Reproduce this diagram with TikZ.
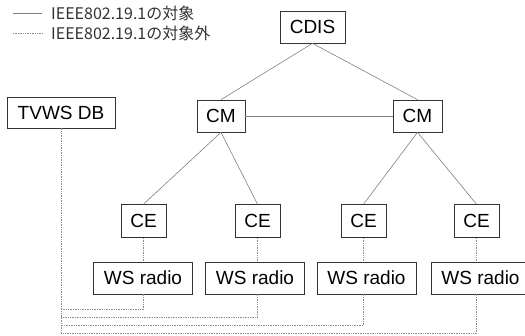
\documentclass[tikz,border=0pt]{standalone}
\usepackage{fontspec}
\setmainfont{Liberation Sans}
\newfontfamily\jpfont{Noto Sans CJK JP}
\begin{document}
\begin{tikzpicture}[x=1pt,y=-1pt,
  box/.style={draw=black!80,line width=0.7pt,inner sep=0pt,font=\fontsize{19}{22}\selectfont,fill=white},
  link/.style={draw=black!50,line width=0.6pt},
  dot/.style={draw=black!45,line width=0.6pt,dash pattern=on 1.4pt off 1pt},
  legtext/.style={anchor=west,inner sep=0pt,font=\jpfont\fontsize{16}{18}\selectfont,text=black!80}]
\useasboundingbox (0,0) rectangle (525,335);
% nodes
\node[box,minimum width=65pt,minimum height=32pt] (cdis) at (312.5,27) {CDIS};
\node[box,minimum width=48pt,minimum height=32pt] (cml) at (221,116) {CM};
\node[box,minimum width=49pt,minimum height=32pt] (cmr) at (417.5,116) {CM};
\node[box,minimum width=108pt,minimum height=31pt] (tv) at (61,112.5) {TVWS DB};
\node[box,minimum width=45pt,minimum height=33pt] (ce1) at (143.5,221) {CE};
\node[box,minimum width=45pt,minimum height=33pt] (ce2) at (257.5,221) {CE};
\node[box,minimum width=45pt,minimum height=33pt] (ce3) at (363.5,221) {CE};
\node[box,minimum width=45pt,minimum height=33pt] (ce4) at (476.5,221) {CE};
\node[box,minimum width=99pt,minimum height=32pt] (ws1) at (143,278) {WS radio};
\node[box,minimum width=99pt,minimum height=32pt] (ws2) at (255,278) {WS radio};
\node[box,minimum width=99pt,minimum height=32pt] (ws3) at (366.5,278) {WS radio};
\node[box,minimum width=99pt,minimum height=32pt] (ws4) at (480.5,278) {WS radio};
% solid links
\draw[link] (cdis.south) -- (cml.north);
\draw[link] (cdis.south) -- (cmr.north);
\draw[link] (cml.east) -- (cmr.west);
\draw[link] (cml.south) -- (ce1.north);
\draw[link] (cml.south) -- (ce2.north);
\draw[link] (cmr.south) -- (ce3.north);
\draw[link] (cmr.south) -- (ce4.north);
% dotted links
\draw[dot] (ce1.south) -- (ce1.south |- ws1.north);
\draw[dot] (ce2.south) -- (ce2.south |- ws2.north);
\draw[dot] (ce3.south) -- (ce3.south |- ws3.north);
\draw[dot] (ce4.south) -- (ce4.south |- ws4.north);
\coordinate (b1) at (61,309);
\coordinate (b2) at (61,317);
\coordinate (b3) at (61,325);
\coordinate (b4) at (61,333);
\draw[dot] (ce1.south |- ws1.south) |- (b1);
\draw[dot] (ce2.south |- ws2.south) |- (b2);
\draw[dot] (ce3.south |- ws3.south) |- (b3);
\draw[dot] (ce4.south |- ws4.south) |- (b4) -- (tv.south);
% legend
\coordinate (l1a) at (13,13); \coordinate (l1b) at (42,13);
\coordinate (l2a) at (13,33); \coordinate (l2b) at (42,33);
\draw[link] (l1a) -- (l1b);
\draw[dot] (l2a) -- (l2b);
\node[legtext] (t1) at (51,13) {IEEE802.19.1の対象};
\node[legtext] (t2) at (51,33) {IEEE802.19.1の対象外};
\end{tikzpicture}
\end{document}
